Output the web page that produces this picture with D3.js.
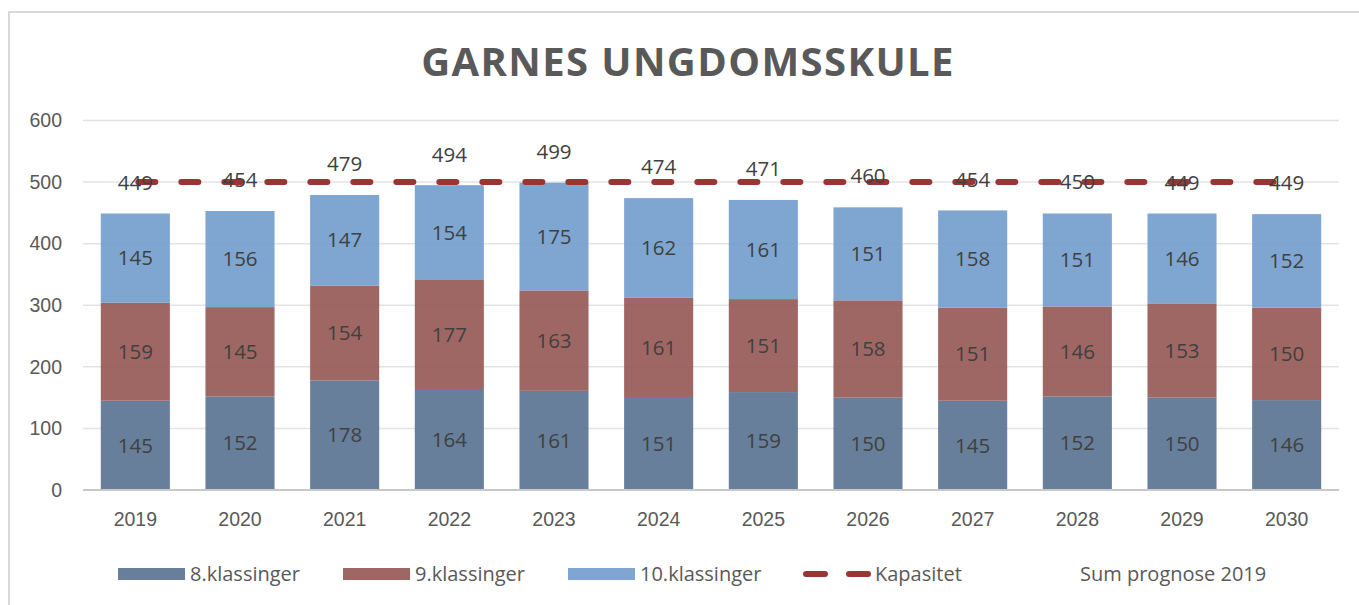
<!DOCTYPE html>
<html lang="no">
<head>
<meta charset="UTF-8">
<title>Garnes ungdomsskule</title>
<style>
html, body { margin: 0; padding: 0; background: #fff; }
svg { display: block; font-family: "Open Sans", "Noto Sans", sans-serif; }
.grid line { stroke: #e3e3e3; stroke-width: 1.5; }
.axis text { fill: #595959; font-size: 19.5px; }
.seglabel { fill: #404040; font-size: 20.5px; text-anchor: middle; }
.sumlabel { fill: #404040; font-size: 20.5px; text-anchor: middle; }
.legend text { fill: #595959; font-size: 20px; }
</style>
</head>
<body>
<div id="graph"></div>
<script src="https://d3js.org/d3.v7.min.js"></script>
<script>
const years = ["2019", "2020", "2021", "2022", "2023", "2024", "2025", "2026", "2027", "2028", "2029", "2030"];
const klasse8 = [145, 152, 178, 164, 161, 151, 159, 150, 145, 152, 150, 146];
const klasse9 = [159, 145, 154, 177, 163, 161, 151, 158, 151, 146, 153, 150];
const klasse10 = [145, 156, 147, 154, 175, 162, 161, 151, 158, 151, 146, 152];
const kapasitet = [500, 500, 500, 500, 500, 500, 500, 500, 500, 500, 500, 500];
const sumPrognose = [449, 454, 479, 494, 499, 474, 471, 460, 454, 450, 449, 449];
const yTicks = [0, 100, 200, 300, 400, 500, 600];

const seriesNames = ["8.klassinger", "9.klassinger", "10.klassinger"];
const seriesColors = ["#56718f", "#955753", "#719ccc"];
const lineColor = "#9b3533";

const width = 1359, height = 605;

const svg = d3.select("#graph").append("svg")
    .attr("width", width).attr("height", height);

// chart area border
svg.append("rect")
    .attr("x", 9).attr("y", 12)
    .attr("width", width + 20).attr("height", height + 20)
    .attr("fill", "none").attr("stroke", "#d9d9d9").attr("stroke-width", 2);

svg.append("text")
    .attr("x", 688).attr("y", 76)
    .attr("text-anchor", "middle")
    .attr("fill", "#595959")
    .style("font-size", "40px").style("font-weight", "bold")
    .style("letter-spacing", "1.4px")
    .text("GARNES UNGDOMSSKULE");

const xScale = d3.scaleBand().domain(years).range([83, 1339]).paddingInner(0.34).paddingOuter(0.17);
const yScale = d3.scaleLinear().domain([0, 600]).range([490, 120.5]);

// grid
svg.append("g").attr("class", "grid")
    .selectAll("line").data(yTicks.filter(d => d > 0)).join("line")
    .attr("x1", 83).attr("x2", 1339)
    .attr("y1", d => yScale(d)).attr("y2", d => yScale(d));

// y axis
const yAxis = svg.append("g").attr("class", "axis y")
    .attr("transform", "translate(62,0)")
    .call(d3.axisLeft(yScale).tickValues(yTicks).tickSize(0).tickPadding(0));
yAxis.select(".domain").remove();

// stacked bars
const rows = years.map((y, i) => ({year: y, k8: klasse8[i], k9: klasse9[i], k10: klasse10[i]}));
const stack = d3.stack().keys(["k8", "k9", "k10"])(rows);

const layers = svg.append("g").selectAll("g").data(stack).join("g")
    .attr("fill", (d, i) => seriesColors[i])
    .attr("fill-opacity", 0.9);

layers.selectAll("rect").data(d => d).join("rect")
    .attr("x", d => xScale(d.data.year))
    .attr("width", xScale.bandwidth())
    .attr("y", d => yScale(d[1]))
    .attr("height", d => yScale(d[0]) - yScale(d[1]));

const labels = svg.append("g").selectAll("g").data(stack).join("g");
labels.selectAll("text").data(d => d.map(v => ({v, key: d.key}))).join("text")
    .attr("class", "seglabel")
    .attr("x", d => xScale(d.v.data.year) + xScale.bandwidth() / 2)
    .attr("y", d => (yScale(d.v[0]) + yScale(d.v[1])) / 2)
    .attr("dy", "0.35em")
    .text(d => d.v.data[d.key]);

// x axis baseline
svg.append("line")
    .attr("x1", 83).attr("x2", 1339)
    .attr("y1", yScale(0)).attr("y2", yScale(0))
    .attr("stroke", "#c8c8c8").attr("stroke-width", 2);

const xAxis = svg.append("g").attr("class", "axis x")
    .attr("transform", `translate(0,${yScale(0) + 22})`)
    .call(d3.axisBottom(xScale).tickSize(0).tickPadding(0));
xAxis.select(".domain").remove();
xAxis.selectAll("text").attr("dy", "0.71em");

// kapasitet line
const line = d3.line()
    .x((d, i) => xScale(years[i]) + xScale.bandwidth() / 2)
    .y(d => yScale(d));

svg.append("path")
    .datum(kapasitet)
    .attr("d", line)
    .attr("fill", "none")
    .attr("stroke", lineColor)
    .attr("stroke-width", 6)
    .attr("stroke-linecap", "round")
    .attr("stroke-dasharray", "17 26")
    .attr("stroke-dashoffset", -3);

// sum labels
svg.append("g").selectAll("text").data(sumPrognose).join("text")
    .attr("class", "sumlabel")
    .attr("x", (d, i) => xScale(years[i]) + xScale.bandwidth() / 2)
    .attr("y", d => yScale(d) - 31)
    .attr("dy", "0.35em")
    .text(d => d);

// legend
const legend = svg.append("g").attr("class", "legend");
const legendItems = [
    {name: seriesNames[0], type: "rect", color: seriesColors[0], x: 118},
    {name: seriesNames[1], type: "rect", color: seriesColors[1], x: 343},
    {name: seriesNames[2], type: "rect", color: seriesColors[2], x: 568},
    {name: "Kapasitet", type: "line", color: lineColor, x: 803},
    {name: "Sum prognose 2019", type: "none", color: null, x: 1008}
];
const ly = 574;
legendItems.forEach(it => {
    if (it.type === "rect") {
        legend.append("rect")
            .attr("x", it.x).attr("y", ly - 6).attr("width", 67).attr("height", 12)
            .attr("fill", it.color).attr("fill-opacity", 0.9);
    } else if (it.type === "line") {
        legend.append("line")
            .attr("x1", it.x + 3).attr("x2", it.x + 67).attr("y1", ly).attr("y2", ly)
            .attr("stroke", it.color).attr("stroke-width", 6)
            .attr("stroke-linecap", "round").attr("stroke-dasharray", "19 24");
    }
    legend.append("text")
        .attr("x", it.x + 72).attr("y", ly).attr("dy", "0.35em")
        .text(it.name);
});
</script>
</body>
</html>
